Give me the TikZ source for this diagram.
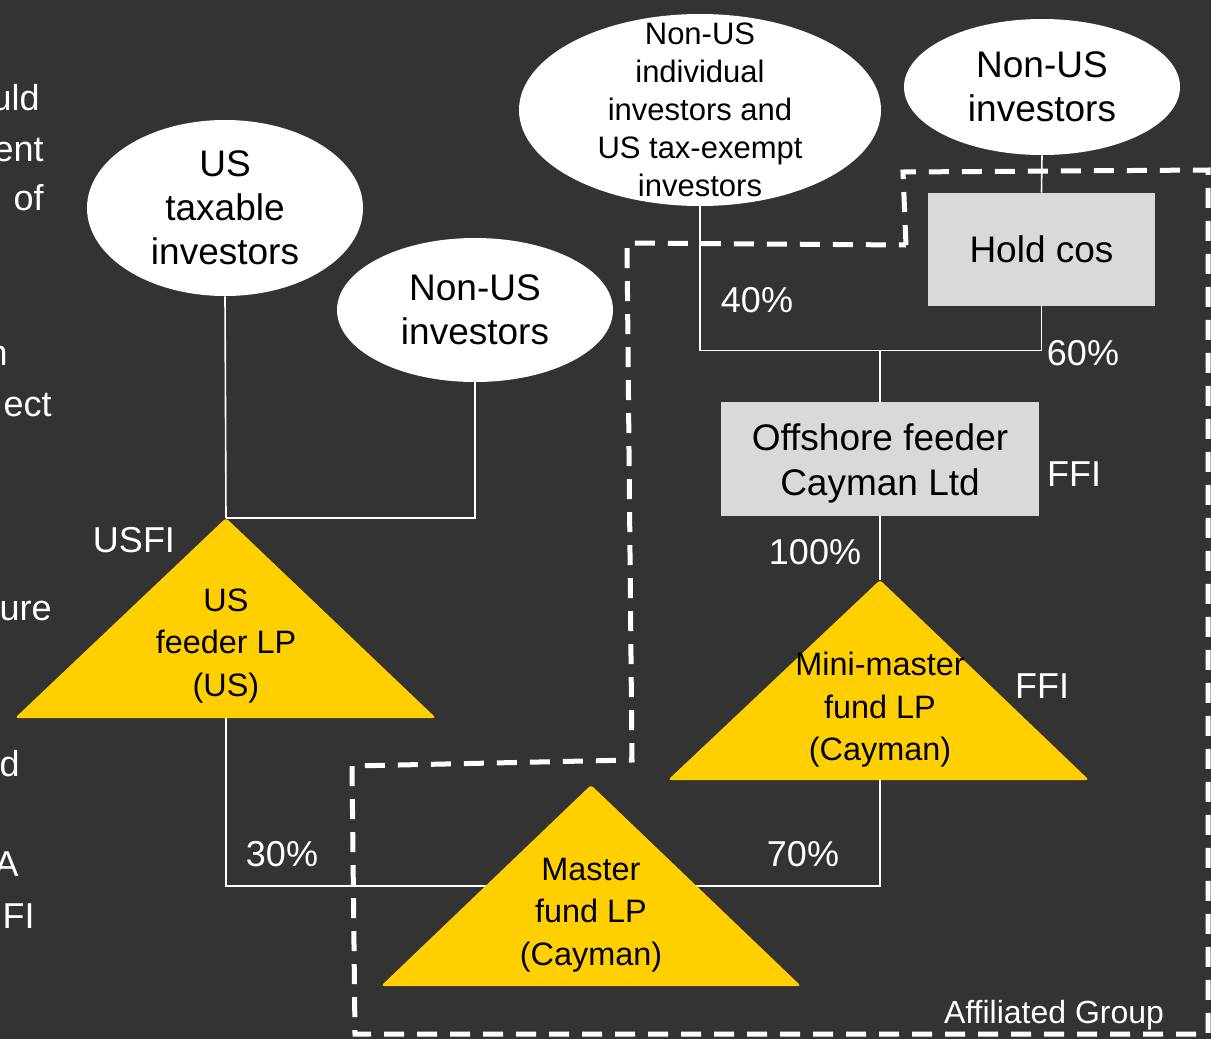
\documentclass[tikz,border=0pt]{standalone}
\usepackage{fontspec}
\setmainfont{Liberation Sans}
\usetikzlibrary{shapes.geometric,positioning}
\definecolor{bgdark}{RGB}{51,51,51}
\definecolor{fundyellow}{RGB}{255,207,0}
\definecolor{boxgray}{RGB}{217,217,217}
\pgfdeclarelayer{bg}
\pgfdeclarelayer{lines}
\pgfsetlayers{bg,lines,main}

\begin{document}
\begin{tikzpicture}[x=0.5pt,y=-0.5pt,
  investor/.style={ellipse, fill=white, inner sep=0pt, align=center,
    text=black, font=\fontsize{18.5}{22}\selectfont},
  entity/.style={rectangle, fill=boxgray, inner sep=0pt, align=center,
    text=black, font=\fontsize{18.5}{22.5}\selectfont},
  fundtri/.style={fill=fundyellow, rounded corners=1.5pt},
  fundtxt/.style={align=center, text=black, font=\fontsize{16.2}{21.3}\selectfont},
  link/.style={draw=white, line width=0.8pt},
  pct/.style={text=white, inner sep=0pt, font=\fontsize{18}{22}\selectfont},
  cutoff/.style={text=white, anchor=base east, inner sep=0pt,
    font=\fontsize{18}{22}\selectfont},
  groupline/.style={draw=white, line width=2.5pt, dash pattern=on 10pt off 6.5pt}]

  \begin{pgfonlayer}{bg}
    \fill[bgdark] (0,0) rectangle (1211,1039);
  \end{pgfonlayer}
  \useasboundingbox (0,0) rectangle (1211,1039);

  % text cut off at the left edge
  \node[cutoff] (cuta) at (40,110) {uld};
  \node[cutoff] (cutb) at (44,161) {ent};
  \node[cutoff] (cutc) at (44,210) {of};
  \node[cutoff] (cutd) at (8,365) {n};
  \node[cutoff] (cute) at (52,416) {ect};
  \node[cutoff] (cutf) at (52,620) {ure};
  \node[cutoff] (cutg) at (20,776) {d};
  \node[cutoff] (cuth) at (19,876) {A};
  \node[cutoff] (cuti) at (35,928) {FI};

  % investors
  \node[investor, minimum width=138pt, minimum height=88pt] (ustax) at (225,208)
    {US\\taxable\\investors};
  \node[investor, minimum width=138pt, minimum height=72pt] (nonusl) at (475,310)
    {Non-US\\investors};
  \node[investor, minimum width=181pt, minimum height=96pt] (nonusind) at (700,110) {};
  \node[align=center, inner sep=0pt, font=\fontsize{15.5}{19}\selectfont]
    (nonusindtxt) at (nonusind) {Non-US\\individual\\investors and\\US tax-exempt\\investors};
  \node[investor, minimum width=138pt, minimum height=68pt] (nonusr) at (1042,87)
    {Non-US\\investors};

  % entities
  \node[entity, minimum width=113.5pt, minimum height=56.5pt] (holdcos) at (1041.5,249.5)
    {Hold cos};
  \node[entity, minimum width=159pt, minimum height=57pt] (offshore) at (880,459) {};
  \node[align=center, inner sep=0pt, font=\fontsize{18.5}{22.5}\selectfont]
    (offshoretxt) at (880,463) {Offshore feeder\\Cayman Ltd};

  % funds
  \coordinate (usfeedtop) at (226,518);
  \coordinate (usfeedbase) at (226,718);
  \fill[fundtri] (usfeedtop) -- (436,718) -- (15,718) -- cycle;
  \node[fundtxt] (usfeed) at (226,646) {US\\feeder LP\\(US)};

  \coordinate (minitop) at (880,580);
  \coordinate (minibase) at (880,780);
  \fill[fundtri] (minitop) -- (1089,780) -- (668,780) -- cycle;
  \node[fundtxt] (mini) at (880,710) {Mini-master\\fund LP\\(Cayman)};

  \coordinate (mastertop) at (591,785);
  \coordinate (masterjoin) at (591,886);
  \fill[fundtri] (mastertop) -- (801,986) -- (381,986) -- cycle;
  \node[fundtxt] (master) at (591,915) {Master\\fund LP\\(Cayman)};

  % ownership lines
  \path (offshore.north) ++(0,-51) coordinate (offjoin);
  \begin{pgfonlayer}{lines}
    \draw[groupline] (906,245) -- (903,172) -- (1208,170) -- (1208,1034)
      -- (355,1034) -- (352,766) -- (632,760) -- (627,243) -- cycle;
    \draw[link] (ustax.south) -- (usfeedtop);
    \draw[link] (nonusl.south) |- (usfeedtop);
    \draw[link] (nonusind.south) |- (offjoin) -- (offshore.north);
    \draw[link] (holdcos.south) |- (offjoin);
    \draw[link] (nonusr.south) -- (holdcos.north);
    \draw[link] (offshore.south) -- (minitop);
    \draw[link] (usfeedbase) |- (masterjoin);
    \draw[link] (minibase) |- (masterjoin);
  \end{pgfonlayer}

  % labels
  \node[pct] (usfi) at (134,540) {USFI};
  \node[pct] (pct40) at (757,300) {40\%};
  \node[pct] (pct60) at (1083,353) {60\%};
  \node[pct] (ffioff) at (1074,474) {FFI};
  \node[pct] (pct100) at (815,552) {100\%};
  \node[pct] (ffimini) at (1042,686) {FFI};
  \node[pct] (pct30) at (282,854) {30\%};
  \node[pct] (pct70) at (803,854) {70\%};
  \node[pct, font=\fontsize{16}{19}\selectfont] (affgroup) at (1054,1015)
    {Affiliated Group};
\end{tikzpicture}
\end{document}
